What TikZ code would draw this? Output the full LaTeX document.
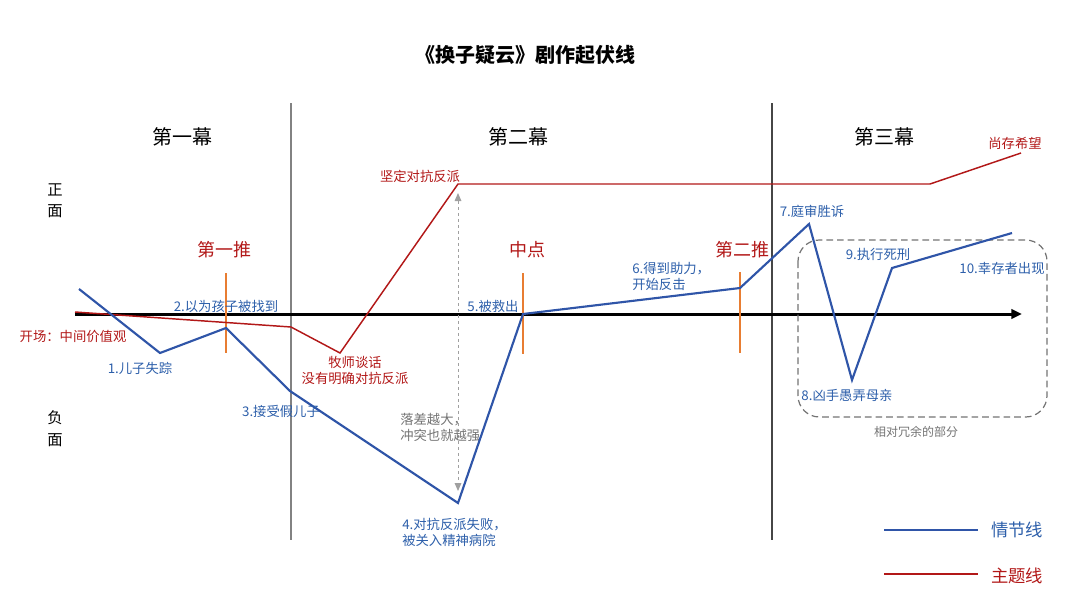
\documentclass[tikz,border=0pt]{standalone}
\usepackage{fontspec}
\setmainfont{Noto Sans CJK SC}
\usetikzlibrary{arrows.meta}
\definecolor{plotblue}{RGB}{47,85,168}
\definecolor{labelblue}{RGB}{45,95,170}
\definecolor{themered}{RGB}{178,24,24}
\definecolor{pushorange}{RGB}{232,125,50}
\definecolor{notegray}{RGB}{115,115,115}
\begin{document}
\begin{tikzpicture}[x=0.75pt,y=0.75pt,yscale=-1,xscale=1,
  bluelab/.style={text=labelblue,font=\fontsize{10}{12}\selectfont,inner sep=0.75pt},
  redlab/.style={text=themered,font=\fontsize{10}{12}\selectfont,inner sep=0.75pt},
  pushlab/.style={text=themered,font=\fontsize{13.5}{16}\selectfont,inner sep=0.75pt},
  actlab/.style={font=\fontsize{15}{18}\selectfont,inner sep=0.75pt},
  sidelab/.style={font=\fontsize{11.5}{14}\selectfont,inner sep=0.75pt},
  pushtick/.style={draw=pushorange,line width=1.5}]
\useasboundingbox (0,0) rectangle (1080,607);
% title
\node[font=\fontsize{15}{18}\selectfont\bfseries,inner sep=0.75pt] (title) at (525,55) {《换子疑云》剧作起伏线};
% act borders
\coordinate (actA top) at (291,103);
\coordinate (actA bot) at (291,540);
\coordinate (actB top) at (772,103);
\coordinate (actB bot) at (772,540);
\draw[color={rgb,255:red,130;green,130;blue,130},line width=1.5] (actA top) -- (actA bot);
\draw[color={rgb,255:red,70;green,70;blue,70},line width=0.9] (actB top) -- (actB bot);
\node[actlab] (act1) at (182,137) {第一幕};
\node[actlab] (act2) at (518,137) {第二幕};
\node[actlab] (act3) at (884,137) {第三幕};
% positive / negative
\node[sidelab] (pos1) at (55,190) {正};
\node[sidelab] (pos2) at (55,211) {面};
\node[sidelab] (neg1) at (55,418) {负};
\node[sidelab] (neg2) at (55,440) {面};
% time axis
\coordinate (axis start) at (75,314);
\coordinate (axis end) at (1022,314);
\draw[line width=2.25,-{Triangle[width=7,length=8]}] (axis start) -- (axis end);
% plot points
\coordinate (p0) at (79,289);
\coordinate (p1) at (160,353);
\coordinate (p2) at (226,328);
\coordinate (p3) at (290,391);
\coordinate (p4) at (458,503);
\coordinate (p5) at (523,314);
\coordinate (p6) at (740,288);
\coordinate (p7) at (809,224);
\coordinate (p8) at (852,380);
\coordinate (p9) at (892,268);
\coordinate (p10) at (1012,233);
% theme points
\coordinate (t0) at (75,312);
\coordinate (t1) at (291,327);
\coordinate (t2) at (340,353);
\coordinate (t3) at (458,184);
\coordinate (t4) at (930,184);
\coordinate (t5) at (1021,153);
% redundant part
\draw[notegray,line width=0.9,dash pattern=on 5pt off 3pt,rounded corners=16] (798,240) rectangle (1047,417);
\node[text=notegray,font=\fontsize{9}{11}\selectfont,inner sep=0.75pt] (redundant) at (916,432) {相对冗余的部分};
% gap arrow
\coordinate (gap top) at (458,193);
\coordinate (gap bot) at (458,491);
\draw[color={rgb,255:red,160;green,160;blue,160},line width=0.75,dash pattern=on 2.5pt off 2pt,{Triangle[width=5,length=6]}-{Triangle[width=5,length=6]}] (gap top) -- (gap bot);
\node[text=notegray,font=\fontsize{10}{12}\selectfont,inner sep=0.75pt,align=left,anchor=west] (gap note) at (399,427) {落差越大，\\冲突也就越强};
% pushes
\draw[pushtick] (226,273) -- (226,353);
\draw[pushtick] (523,273) -- (523,354);
\draw[pushtick] (740,272) -- (740,353);
\node[pushlab] (push1) at (224,250) {第一推};
\node[pushlab] (mid) at (527,250) {中点};
\node[pushlab] (push2) at (742,250) {第二推};
% theme line
\draw[themered,line width=1.1] (t0) -- (t1) -- (t2) -- (t3) -- (t4) -- (t5);
% plot line
\draw[plotblue,line width=1.6] (p0) -- (p1) -- (p2) -- (p3) -- (p4) -- (p5) -- (p6) -- (p7) -- (p8) -- (p9) -- (p10);
% plot labels
\node[bluelab] (l1) at (140,368) {1.儿子失踪};
\node[bluelab] (l2) at (226,306) {2.以为孩子被找到};
\node[bluelab] (l3) at (281,411) {3.接受假儿子};
\node[bluelab,align=left,anchor=west] (l4) at (401,532) {4.对抗反派失败，\\被关入精神病院};
\node[bluelab] (l5) at (493,306) {5.被救出};
\node[bluelab,align=left,anchor=west] (l6) at (631,276) {6.得到助力，\\开始反击};
\node[bluelab] (l7) at (812,211) {7.庭审胜诉};
\node[bluelab] (l8) at (847,395) {8.凶手愚弄母亲};
\node[bluelab] (l9) at (878,254) {9.执行死刑};
\node[bluelab] (l10) at (1002,268) {10.幸存者出现};
% theme labels
\node[redlab] (r0) at (73,336) {开场：中间价值观};
\node[redlab,align=center] (r1) at (355,370) {牧师谈话\\没有明确对抗反派};
\node[redlab] (r2) at (420,176) {坚定对抗反派};
\node[redlab] (r3) at (1015,143) {尚存希望};
% legend
\coordinate (leg plot a) at (884,530);
\coordinate (leg plot b) at (978,530);
\coordinate (leg theme a) at (884,574);
\coordinate (leg theme b) at (978,574);
\draw[plotblue,line width=1.6] (leg plot a) -- (leg plot b);
\draw[themered,line width=1.6] (leg theme a) -- (leg theme b);
\node[text=labelblue,font=\fontsize{13}{15}\selectfont,inner sep=0.75pt] (leg plot) at (1017,530) {情节线};
\node[text=themered,font=\fontsize{13}{15}\selectfont,inner sep=0.75pt] (leg theme) at (1017,576) {主题线};
\end{tikzpicture}
\end{document}
